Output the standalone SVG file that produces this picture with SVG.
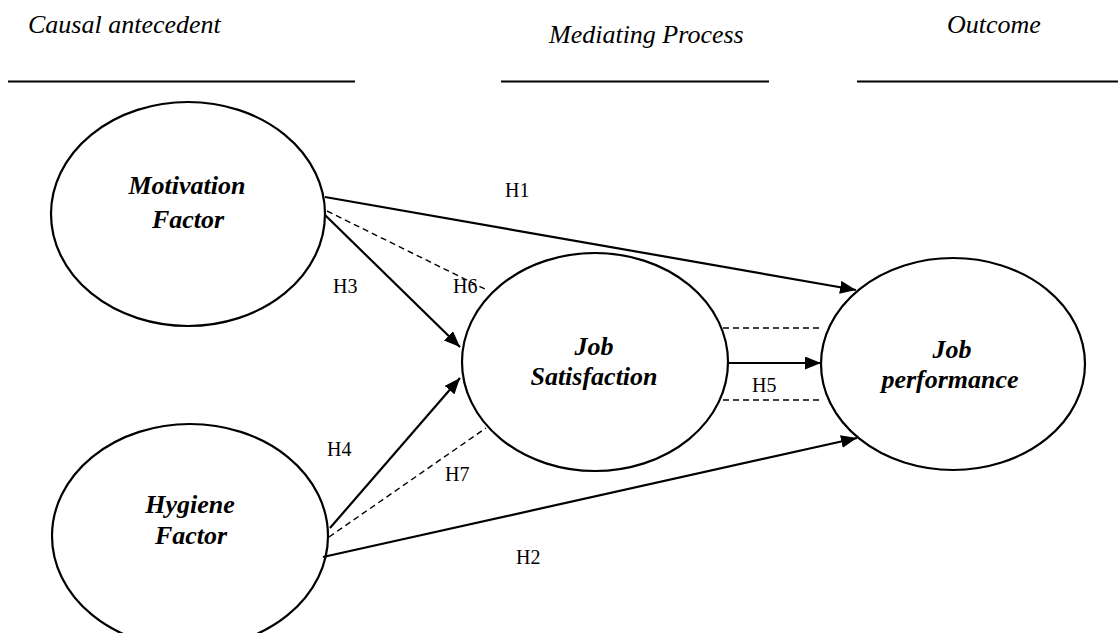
<svg xmlns="http://www.w3.org/2000/svg" width="1118" height="633" viewBox="0 0 1118 633">
<style>
.hdr{font-family:"Liberation Serif",serif;font-style:italic;font-size:26px;fill:#000}
.lbl{font-family:"Liberation Serif",serif;font-style:italic;font-weight:bold;font-size:26px;fill:#000;text-anchor:middle}
.h{font-family:"Liberation Serif",serif;font-size:20px;fill:#000}
.node{fill:#fff;stroke:#000;stroke-width:2.2}
.solid{stroke:#000;stroke-width:2.2;fill:none}
.dash{stroke:#000;stroke-width:1.4;fill:none;stroke-dasharray:6,4}
.rule{stroke:#000;stroke-width:2.2}
</style>
<defs>
<marker id="arr" markerUnits="userSpaceOnUse" markerWidth="17" markerHeight="13" refX="16" refY="6.5" orient="auto">
<path d="M0,0 L16,6.5 L0,13 z" fill="#000"/>
</marker>
</defs>
<rect width="1118" height="633" fill="#fff"/>
<g id="headers">
<text class="hdr" x="28" y="33">Causal antecedent</text>
<text class="hdr" x="549" y="43">Mediating Process</text>
<text class="hdr" x="947" y="33">Outcome</text>
<line class="rule" x1="8" y1="81.5" x2="355" y2="81.5"/>
<line class="rule" x1="501" y1="81.5" x2="769" y2="81.5"/>
<line class="rule" x1="857" y1="81.5" x2="1118" y2="81.5"/>
</g>
<g id="motivation">
<ellipse class="node" cx="188" cy="214" rx="137" ry="112"/>
<text class="lbl" x="187" y="194">Motivation</text>
<text class="lbl" x="188" y="228">Factor</text>
</g>
<g id="hygiene">
<ellipse class="node" cx="190" cy="536" rx="138" ry="112"/>
<text class="lbl" x="190" y="513">Hygiene</text>
<text class="lbl" x="191" y="544">Factor</text>
</g>
<g id="satisfaction">
<ellipse class="node" cx="595" cy="362" rx="133" ry="109"/>
<text class="lbl" x="594" y="355">Job</text>
<text class="lbl" x="594" y="385">Satisfaction</text>
</g>
<g id="performance">
<ellipse class="node" cx="953" cy="364" rx="132" ry="106"/>
<text class="lbl" x="952" y="358">Job</text>
<text class="lbl" x="950" y="388">performance</text>
</g>
<g id="connectors">
<line class="solid" x1="325" y1="197" x2="856" y2="290" marker-end="url(#arr)"/>
<line class="solid" x1="325" y1="215" x2="460" y2="347" marker-end="url(#arr)"/>
<line class="dash" x1="327" y1="211" x2="487" y2="290"/>
<line class="solid" x1="330" y1="528" x2="460" y2="378" marker-end="url(#arr)"/>
<line class="dash" x1="329" y1="537" x2="486" y2="428"/>
<line class="solid" x1="323" y1="557" x2="857" y2="438" marker-end="url(#arr)"/>
<line class="solid" x1="728" y1="363" x2="821" y2="363" marker-end="url(#arr)"/>
<line class="dash" x1="723" y1="328" x2="822" y2="328"/>
<line class="dash" x1="723" y1="400" x2="822" y2="400"/>
</g>
<g id="labels">
<text class="h" x="505" y="197">H1</text>
<text class="h" x="333" y="293">H3</text>
<text class="h" x="453" y="293">H6</text>
<text class="h" x="752" y="392">H5</text>
<text class="h" x="327" y="456">H4</text>
<text class="h" x="445" y="481">H7</text>
<text class="h" x="516" y="564">H2</text>
</g>
</svg>
